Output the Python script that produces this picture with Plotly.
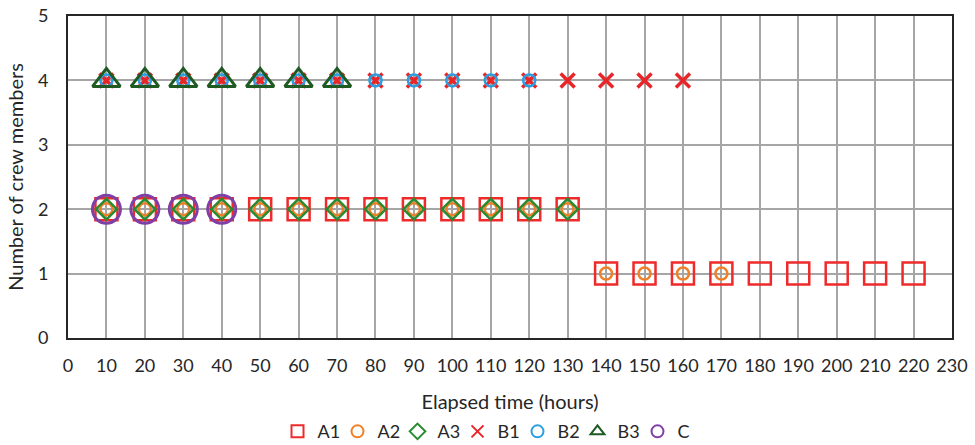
import plotly.graph_objects as go

a1_x = [10, 20, 30, 40, 50, 60, 70, 80, 90, 100, 110, 120, 130, 140, 150, 160, 170, 180, 190, 200, 210, 220]
a1_y = [2, 2, 2, 2, 2, 2, 2, 2, 2, 2, 2, 2, 2, 1, 1, 1, 1, 1, 1, 1, 1, 1]
a2_x = [10, 20, 30, 40, 50, 60, 70, 80, 90, 100, 110, 120, 130, 140, 150, 160, 170]
a2_y = [2, 2, 2, 2, 2, 2, 2, 2, 2, 2, 2, 2, 2, 1, 1, 1, 1]
a3_x = [10, 20, 30, 40, 50, 60, 70, 80, 90, 100, 110, 120, 130]
a3_y = [2, 2, 2, 2, 2, 2, 2, 2, 2, 2, 2, 2, 2]
b1_x = [10, 20, 30, 40, 50, 60, 70, 80, 90, 100, 110, 120, 130, 140, 150, 160]
b1_y = [4] * 16
b2_x = [10, 20, 30, 40, 50, 60, 70, 80, 90, 100, 110, 120]
b2_y = [4] * 12
b3_x = [10, 20, 30, 40, 50, 60, 70]
b3_y = [4] * 7
c_x = [10, 20, 30, 40]
c_y = [2, 2, 2, 2]

x_ticks = list(range(0, 240, 10))
y_ticks = [0, 1, 2, 3, 4, 5]

series = [
    ("A1", a1_x, a1_y, "square-open", "#ee2a2a", 22, 2.5),
    ("A2", a2_x, a2_y, "circle-open", "#f07f2a", 12, 2.5),
    ("A3", a3_x, a3_y, "diamond-open", "#2a8a2f", 16, 2.5),
    ("B1", b1_x, b1_y, "x-thin-open", "#e8262a", 14, 3.5),
    ("B2", b2_x, b2_y, "circle-open", "#2a9ee0", 12, 2.5),
    ("B3", b3_x, b3_y, "triangle-up-open", "#1f5a23", 24, 3),
    ("C", c_x, c_y, "circle-open", "#7e3fa6", 28, 3),
]

fig = go.Figure()
for name, xs, ys, sym, col, size, lw in series:
    fig.add_trace(go.Scatter(
        x=xs, y=ys, mode="markers", name=name,
        marker=dict(symbol=sym, size=size, color=col, line=dict(color=col, width=lw)),
    ))

font = "Lato, 'Open Sans', sans-serif"
fig.update_layout(
    width=975, height=445,
    margin=dict(l=68, r=23, t=16, b=107),
    plot_bgcolor="white", paper_bgcolor="white",
    font=dict(family=font, size=18, color="#262626"),
    legend=dict(orientation="h", xref="container", x=0.5, xanchor="center",
                yref="container", y=0.03, yanchor="middle",
                font=dict(size=18), itemsizing="constant", itemwidth=30,
                entrywidth=15, entrywidthmode="pixels",
                tracegroupgap=0),
    showlegend=True,
)
fig.update_xaxes(
    range=[0, 230], tickmode="array", tickvals=x_ticks,
    showgrid=True, gridcolor="#a6a6a6", gridwidth=1.5,
    showline=True, linecolor="#262626", linewidth=2, mirror=True,
    zeroline=False, ticks="", automargin=False, ticklabelstandoff=10,
    title=dict(text="Elapsed time (hours)", font=dict(size=20), standoff=20),
)
fig.update_yaxes(
    range=[0, 5], tickmode="array", tickvals=y_ticks,
    showgrid=True, gridcolor="#a6a6a6", gridwidth=1.5,
    showline=True, linecolor="#262626", linewidth=2, mirror=True,
    zeroline=False, ticks="", automargin=False, ticklabelstandoff=14,
    title=dict(text="Number of crew members", font=dict(size=20), standoff=9),
)
fig.write_html("out.html", config={"displayModeBar": False},
               post_script="document.body.style.margin='0';document.body.style.padding='0';")
